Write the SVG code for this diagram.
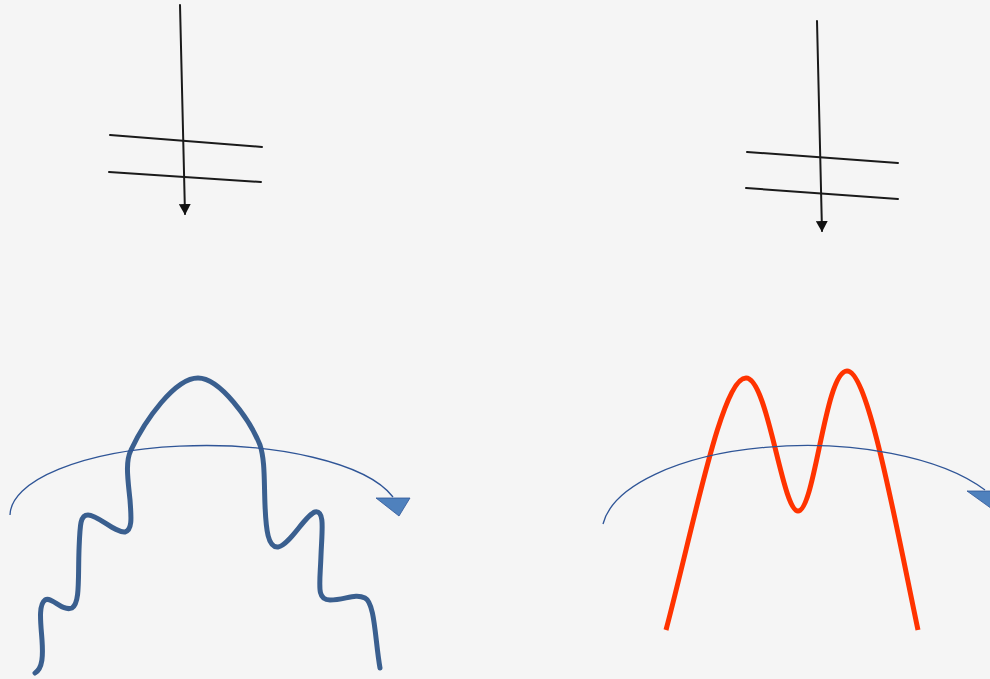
<svg xmlns="http://www.w3.org/2000/svg" width="990" height="679" viewBox="0 0 990 679">
<style>
.blk{stroke:#1a1a1a;stroke-width:2;fill:none;stroke-linecap:round}
.arc{stroke:#2F5597;stroke-width:1.3;fill:none}
.tri{fill:#4F81BD;stroke:#2F5597;stroke-width:0.8}
</style>
<defs>
<marker id="ah" markerWidth="12" markerHeight="12" refX="10" refY="6" orient="auto" markerUnits="userSpaceOnUse">
<path d="M0,0 L11,6 L0,12 Z" fill="#111"/>
</marker>
</defs>
<rect width="990" height="679" fill="#F5F5F5"/>
<g id="left-top">
<line class="blk" x1="180" y1="5" x2="185" y2="214" marker-end="url(#ah)"/>
<line class="blk" x1="110" y1="135" x2="262" y2="147"/>
<line class="blk" x1="109" y1="172" x2="261" y2="182"/>
</g>
<g id="right-top">
<line class="blk" x1="817" y1="21" x2="822" y2="231" marker-end="url(#ah)"/>
<line class="blk" x1="747" y1="152" x2="898" y2="163"/>
<line class="blk" x1="746" y1="188" x2="898" y2="199"/>
</g>
<g id="left-bottom">
<path d="M35,673 C43,668 43,655 42,640 C41,625 38,605 45,600 C52,596 62,612 72,608 C80,603 78,580 79,550 C80,525 80,515 88,515 C98,515 115,533 125,532 C133,530 131,515 130,500 C128,480 125,462 131,450 C145,420 175,378 198,378 C220,378 250,420 260,445 C265,460 264,480 265,505 C266,530 268,548 278,547 C290,545 305,515 315,512 C325,510 322,530 321,555 C320,585 316,600 330,600 C345,600 355,593 365,598 C375,603 375,640 380,668" fill="none" stroke="#3A5F8F" stroke-width="5" stroke-linecap="round"/>
<path class="arc" d="M10,515 A195 70 0 0 1 393,497"/>
<polygon class="tri" points="376,498 410,498 399,516"/>
</g>
<g id="right-bottom">
<path d="M666,630 C695,520 722,378 746,378 C768,378 782,511 798,511 C815,511 825,371 847,371 C868,371 895,520 918,630" fill="none" stroke="#FF3300" stroke-width="5"/>
<path class="arc" d="M603,524 A205 88 0 0 1 985,490"/>
<polygon class="tri" points="967,491 1003,491 992,509"/>
</g>
</svg>
